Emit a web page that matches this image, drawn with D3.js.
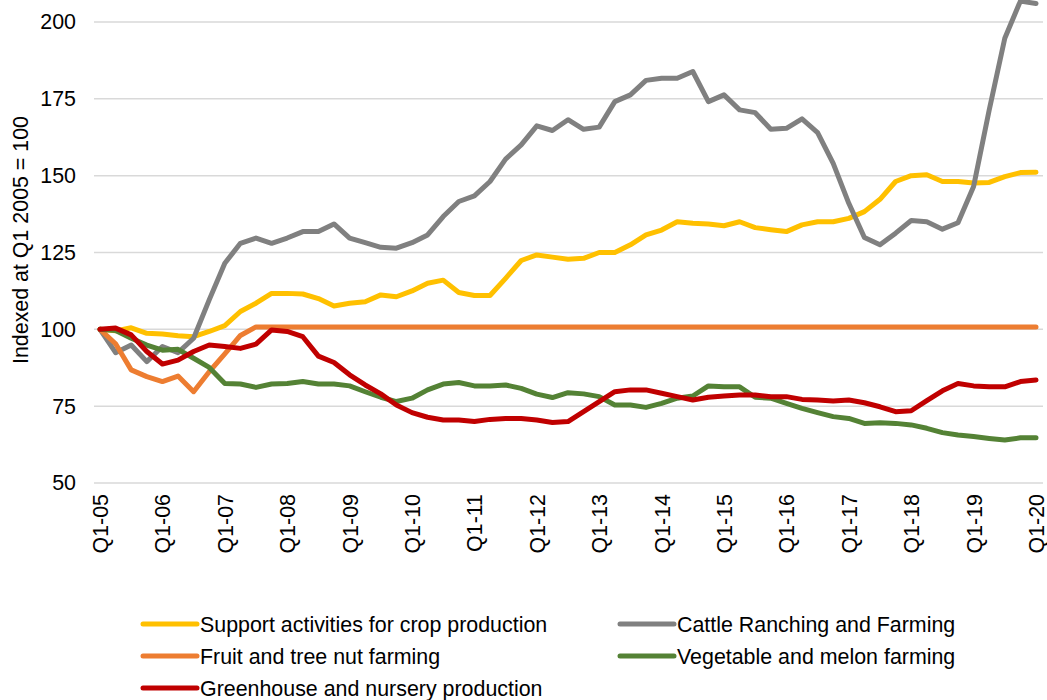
<!DOCTYPE html>
<html>
<head>
<meta charset="utf-8">
<script src="https://cdn.jsdelivr.net/npm/d3@7"></script>
<style>
  html, body { margin: 0; padding: 0; background: #fff; }
  svg { display: block; font-family: "Liberation Sans", Arial, sans-serif; }
</style>
</head>
<body>
<div id="chart"></div>
<script>
// quarterly index, Q1 2005 .. Q1 2020 (61 quarters)
const tickLabels = ["Q1-05", "Q1-06", "Q1-07", "Q1-08", "Q1-09", "Q1-10", "Q1-11", "Q1-12",
    "Q1-13", "Q1-14", "Q1-15", "Q1-16", "Q1-17", "Q1-18", "Q1-19", "Q1-20"];
const yTicks = [50, 75, 100, 125, 150, 175, 200];

const support = [100, 99.5, 100.5, 98.7, 98.5, 97.9, 97.6, 99.3, 101.2, 105.8,
    108.5, 111.7, 111.7, 111.5, 110, 107.6, 108.5, 109, 111.2, 110.6,
    112.5, 115, 116, 112, 111, 111, 116.6, 122.4, 124.2, 123.5,
    122.8, 123.1, 125, 125, 127.5, 130.7, 132.3, 135, 134.5, 134.3,
    133.7, 135, 133.1, 132.4, 131.8, 134, 135, 135, 136.1, 138.3,
    142.3, 148.1, 150, 150.3, 148.1, 148.1, 147.6, 147.8, 149.7, 151, 151.1];

const cattle = [100, 92.4, 94.9, 89.5, 94.4, 92.4, 97.1, 109.6, 121.5, 128,
    129.7, 128, 129.7, 131.8, 131.8, 134.3, 129.7, 128.2, 126.7, 126.4,
    128.2, 130.7, 136.7, 141.6, 143.4, 148.1, 155.4, 160, 166.2, 164.7,
    168.2, 165.1, 165.8, 174.1, 176.3, 181, 181.7, 181.7, 183.9, 174.1,
    176.3, 171.4, 170.5, 165.1, 165.4, 168.5, 164, 154, 141, 129.9,
    127.5, 131.3, 135.4, 135, 132.6, 134.7, 146.5, 171.4, 194.7, 206.8, 206];

const fruit = [100, 95.3, 86.8, 84.6, 83, 84.8, 79.7, 86.2, 92, 98,
    100.8, 100.8, 100.8, 100.8, 100.8, 100.8, 100.8, 100.8, 100.8, 100.8,
    100.8, 100.8, 100.8, 100.8, 100.8, 100.8, 100.8, 100.8, 100.8, 100.8,
    100.8, 100.8, 100.8, 100.8, 100.8, 100.8, 100.8, 100.8, 100.8, 100.8,
    100.8, 100.8, 100.8, 100.8, 100.8, 100.8, 100.8, 100.8, 100.8, 100.8,
    100.8, 100.8, 100.8, 100.8, 100.8, 100.8, 100.8, 100.8, 100.8, 100.8, 100.8];

const vegetable = [100, 99.6, 97.1, 94.9, 93.2, 93.5, 90.6, 87.6, 82.4, 82.2,
    81.1, 82.2, 82.4, 83, 82.2, 82.2, 81.6, 79.7, 77.9, 76.5,
    77.6, 80.3, 82.2, 82.7, 81.6, 81.6, 81.9, 80.8, 78.9, 77.8,
    79.4, 79, 78.1, 75.4, 75.4, 74.6, 75.9, 77.6, 78.3, 81.6,
    81.3, 81.3, 77.9, 77.6, 75.9, 74.3, 72.9, 71.6, 71, 69.4,
    69.6, 69.4, 68.9, 67.8, 66.4, 65.6, 65.1, 64.5, 64, 64.7, 64.7];

const greenhouse = [100, 100.4, 98.2, 92.8, 88.7, 90, 92.8, 94.9, 94.4, 93.8,
    95.2, 99.8, 99.3, 97.6, 91.3, 89.2, 85.2, 81.9, 79, 75.4,
    72.9, 71.4, 70.5, 70.5, 70, 70.7, 71, 71, 70.5, 69.7,
    70, 73.2, 76.5, 79.7, 80.3, 80.3, 79.2, 78.1, 77, 77.9,
    78.3, 78.6, 78.6, 78.1, 78.1, 77.2, 77, 76.7, 77, 76.1,
    74.8, 73.2, 73.5, 76.8, 80, 82.4, 81.6, 81.3, 81.3, 83, 83.5];

const seriesNames = ["Support activities for crop production", "Cattle Ranching and Farming",
    "Fruit and tree nut farming", "Vegetable and melon farming", "Greenhouse and nursery production"];
const seriesColors = ["#FFC000", "#808080", "#ED7D31", "#548235", "#C00000"];
const seriesValues = [support, cattle, fruit, vegetable, greenhouse];

const width = 1047, height = 700;
const fontSize = 21.4;

const svg = d3.select("#chart").append("svg")
    .attr("width", width)
    .attr("height", height);

const x = d3.scaleLinear().domain([0, support.length - 1]).range([100, 1036]);
const y = d3.scaleLinear().domain([50, 200]).range([483, 22]);

// gridlines
svg.append("g")
    .selectAll("line")
    .data(yTicks)
    .enter().append("line")
    .attr("x1", 94)
    .attr("x2", 1043)
    .attr("y1", d => y(d))
    .attr("y2", d => y(d))
    .attr("stroke", "#d9d9d9")
    .attr("stroke-width", 1.5);

// y axis labels
const yAxis = d3.axisLeft(y).tickValues(yTicks).tickSize(0).tickPadding(0);
svg.append("g")
    .attr("transform", "translate(76,0)")
    .call(yAxis)
    .call(g => g.select(".domain").remove())
    .selectAll("text")
    .attr("font-size", fontSize)
    .attr("font-family", "Liberation Sans, Arial, sans-serif")
    .attr("fill", "#000");

// x axis labels, one per year
const xAxis = d3.axisBottom(x)
    .tickValues(tickLabels.map((d, i) => i * 4))
    .tickFormat((d, i) => tickLabels[i])
    .tickSize(0);
svg.append("g")
    .attr("transform", `translate(0,${y(50)})`)
    .call(xAxis)
    .call(g => g.select(".domain").remove())
    .selectAll("text")
    .attr("font-size", fontSize)
    .attr("font-family", "Liberation Sans, Arial, sans-serif")
    .attr("fill", "#000")
    .attr("text-anchor", "end")
    .attr("dy", "0.35em")
    .attr("transform", "translate(0,11) rotate(-90)")
    .attr("x", 0)
    .attr("y", 0);

// y axis title
svg.append("text")
    .attr("transform", "translate(20,240) rotate(-90)")
    .attr("text-anchor", "middle")
    .attr("dy", "0.35em")
    .attr("font-size", fontSize)
    .attr("fill", "#000")
    .text("Indexed at Q1 2005 = 100");

// lines
const line = d3.line()
    .x((d, i) => x(i))
    .y(d => y(d));

svg.append("g")
    .selectAll("path")
    .data(seriesValues)
    .enter().append("path")
    .attr("d", line)
    .attr("fill", "none")
    .attr("stroke", (d, i) => seriesColors[i])
    .attr("stroke-width", 5)
    .attr("stroke-linejoin", "round")
    .attr("stroke-linecap", "round");

// legend, two columns
const legendCols = [143, 620];
const legendRows = [624, 656, 688];
const legend = svg.append("g")
    .selectAll("g")
    .data(seriesNames)
    .enter().append("g")
    .attr("transform", (d, i) => `translate(${legendCols[i % 2]},${legendRows[Math.floor(i / 2)]})`);

legend.append("line")
    .attr("x1", 0)
    .attr("x2", 54)
    .attr("stroke", (d, i) => seriesColors[i])
    .attr("stroke-width", 5)
    .attr("stroke-linecap", "round");

legend.append("text")
    .attr("x", 57)
    .attr("dy", "0.35em")
    .attr("font-size", fontSize)
    .attr("fill", "#000")
    .text(d => d);
</script>
</body>
</html>
